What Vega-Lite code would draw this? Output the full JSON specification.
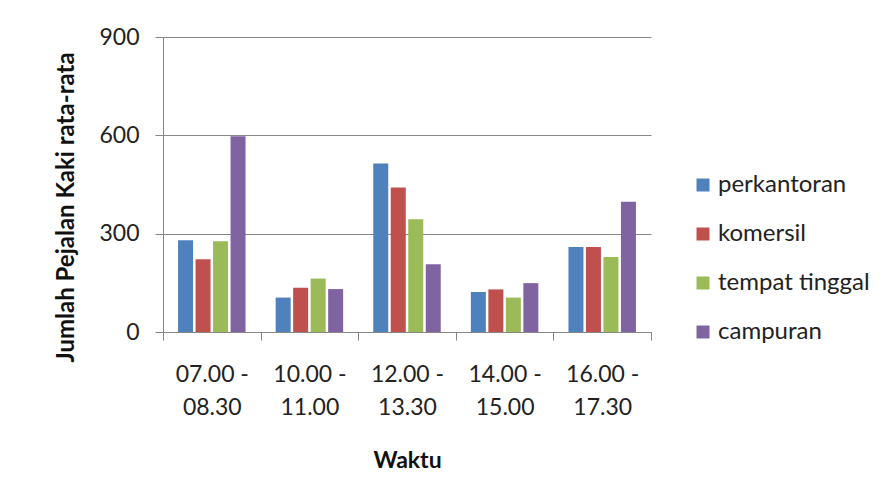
{
  "$schema": "https://vega.github.io/schema/vega-lite/v6.json",
  "autosize": "none",
  "width": 488,
  "height": 295,
  "padding": {"left": 163, "top": 37, "right": 235, "bottom": 170},
  "background": "#ffffff",
  "config": {
    "font": "Lato",
    "view": {"stroke": null},
    "axis": {"labelColor": "#222222", "titleColor": "#111111", "domainColor": "#868686", "tickColor": "#868686", "gridColor": "#868686"}
  },
  "data": {
    "values": [
      {"waktu": "07.00 - 08.30", "guna": "perkantoran", "jumlah": 280},
      {"waktu": "07.00 - 08.30", "guna": "komersil", "jumlah": 222},
      {"waktu": "07.00 - 08.30", "guna": "tempat tinggal", "jumlah": 277},
      {"waktu": "07.00 - 08.30", "guna": "campuran", "jumlah": 597},
      {"waktu": "10.00 - 11.00", "guna": "perkantoran", "jumlah": 105},
      {"waktu": "10.00 - 11.00", "guna": "komersil", "jumlah": 135},
      {"waktu": "10.00 - 11.00", "guna": "tempat tinggal", "jumlah": 163},
      {"waktu": "10.00 - 11.00", "guna": "campuran", "jumlah": 131},
      {"waktu": "12.00 - 13.30", "guna": "perkantoran", "jumlah": 514},
      {"waktu": "12.00 - 13.30", "guna": "komersil", "jumlah": 441},
      {"waktu": "12.00 - 13.30", "guna": "tempat tinggal", "jumlah": 344},
      {"waktu": "12.00 - 13.30", "guna": "campuran", "jumlah": 207},
      {"waktu": "14.00 - 15.00", "guna": "perkantoran", "jumlah": 122},
      {"waktu": "14.00 - 15.00", "guna": "komersil", "jumlah": 130},
      {"waktu": "14.00 - 15.00", "guna": "tempat tinggal", "jumlah": 105},
      {"waktu": "14.00 - 15.00", "guna": "campuran", "jumlah": 149},
      {"waktu": "16.00 - 17.30", "guna": "perkantoran", "jumlah": 259},
      {"waktu": "16.00 - 17.30", "guna": "komersil", "jumlah": 259},
      {"waktu": "16.00 - 17.30", "guna": "tempat tinggal", "jumlah": 229},
      {"waktu": "16.00 - 17.30", "guna": "campuran", "jumlah": 397}
    ]
  },
  "mark": {"type": "bar"},
  "encoding": {
    "x": {
      "field": "waktu",
      "type": "nominal",
      "scale": {"paddingInner": 0, "paddingOuter": 0},
      "axis": {
        "title": "Waktu",
        "titleFontSize": 23,
        "titleFontWeight": "bold",
        "titlePadding": 30,
        "labelAngle": 0,
        "labelFontSize": 23,
        "labelLineHeight": 33,
        "labelPadding": 23,
        "labelExpr": "[slice(datum.label, 0, 7), slice(datum.label, 8)]",
        "tickBand": "extent",
        "tickSize": 8,
        "grid": false
      }
    },
    "xOffset": {
      "field": "guna",
      "type": "nominal",
      "sort": ["perkantoran", "komersil", "tempat tinggal", "campuran"],
      "scale": {"paddingInner": 0.143, "paddingOuter": 0.86}
    },
    "y": {
      "field": "jumlah",
      "type": "quantitative",
      "scale": {"domain": [0, 900]},
      "axis": {
        "title": "Jumlah Pejalan Kaki rata-rata",
        "titleFontSize": 24,
        "titleFontWeight": "bold",
        "titleY": 170,
        "titlePadding": 20,
        "values": [0, 300, 600, 900],
        "labelFontSize": 23,
        "labelPadding": 16,
        "tickSize": 8,
        "grid": true
      }
    },
    "color": {
      "field": "guna",
      "type": "nominal",
      "sort": ["perkantoran", "komersil", "tempat tinggal", "campuran"],
      "scale": {
        "domain": ["perkantoran", "komersil", "tempat tinggal", "campuran"],
        "range": ["#4F81BD", "#C0504D", "#9BBB59", "#8064A2"]
      },
      "legend": {
        "title": null,
        "orient": "none",
        "legendX": 528,
        "legendY": 136,
        "symbolType": "square",
        "symbolSize": 169,
        "symbolStrokeWidth": 0,
        "labelFontSize": 24,
        "labelColor": "#222222",
        "labelOffset": 3,
        "rowPadding": 25
      }
    }
  }
}
